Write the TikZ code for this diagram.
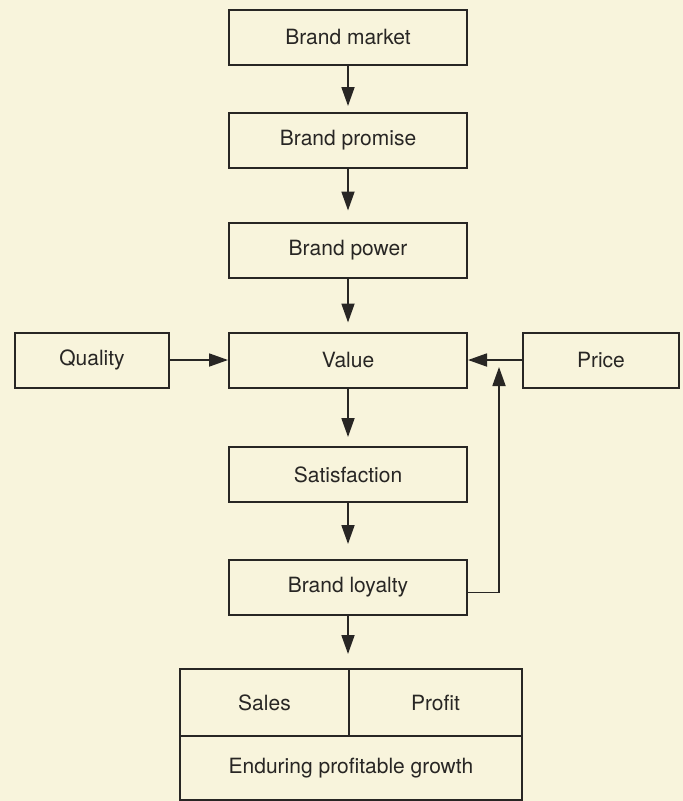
\documentclass[tikz,border=0pt]{standalone}
\usepackage{fontspec}
\setmainfont{TeX Gyre Heros}
\usetikzlibrary{arrows.meta}
\definecolor{paper}{RGB}{248,244,220}
\definecolor{ink}{RGB}{40,38,36}
\begin{document}
\begin{tikzpicture}[x=1pt,y=-1pt,
  every node/.style={font=\fontsize{21}{25}\selectfont,text=ink},
  box/.style={draw=ink,line width=2pt,minimum width=238pt,minimum height=55pt,inner sep=0pt},
  flow/.style={draw=ink,line width=1.8pt,-{Triangle[length=19pt,width=13pt]}}]
% paper and margins
\fill[paper] (0,0) rectangle (683,801);
\useasboundingbox (0,0) rectangle (683,801);
% main column
\node[box] (market) at (348,37.5) {Brand market};
\node[box] (promise) at (348,140.5) {Brand promise};
\node[box] (power) at (348,250) {Brand power};
\node[box] (value) at (348,360) {Value};
\node[box] (satisfaction) at (348,474.5) {Satisfaction};
\node[box] (loyalty) at (348,587.5) {Brand loyalty};
% side inputs
\node[box,minimum width=154pt] (quality) at (92,360) {Quality};
\node[box,minimum width=156pt] (price) at (601,360) {Price};
% result block
\node[box,minimum width=169pt,minimum height=67pt] (sales) at (264.5,702.5) {Sales};
\node[box,minimum width=173pt,minimum height=67pt] (profit) at (435.5,702.5) {Profit};
\node[box,minimum width=342pt,minimum height=64pt] (growth) at (351,768) {Enduring profitable growth};
% arrows down the column
\foreach \a/\b/\s in {market/promise/6,promise/power/11,power/value/9,value/satisfaction/9,satisfaction/loyalty/15}
  \draw[flow,shorten >=\s pt] (\a) -- (\b);
\draw[flow,shorten >=14pt] (loyalty.south) -- (loyalty.south |- sales.north);
% quality and price feed value
\draw[flow] (quality) -- (value);
\draw[flow] (price) -- (value);
% loyalty loops back
\coordinate (back) at (499,367);
\draw[flow] ([yshift=-5pt]loyalty.east) -| (back);
\end{tikzpicture}
\end{document}
